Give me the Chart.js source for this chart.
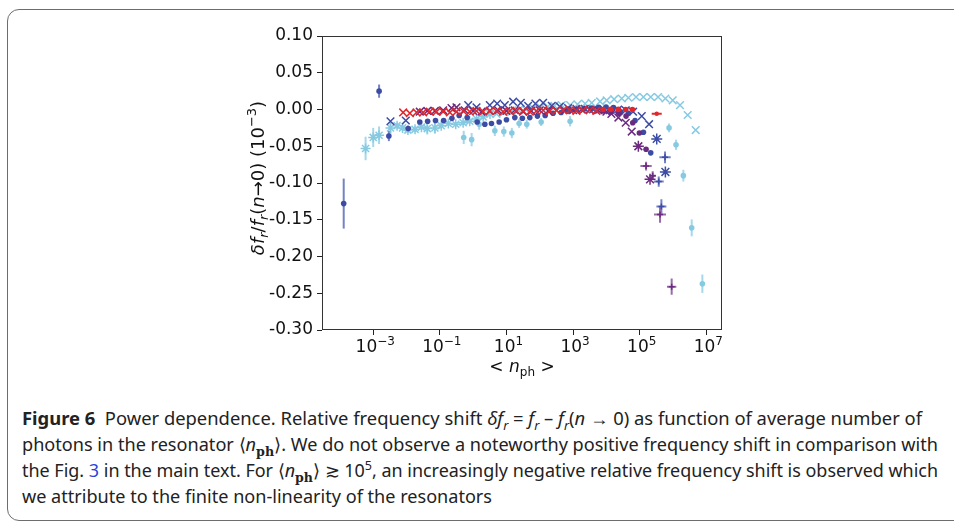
<!DOCTYPE html>
<html>
<head>
<meta charset="utf-8">
<script src="https://cdn.jsdelivr.net/npm/chart.js@4.4.0/dist/chart.umd.min.js"></script>
<style>
html, body { margin: 0; padding: 0; background: #fff; width: 954px; height: 522px; overflow: hidden; }
#frame { position: absolute; left: 7px; top: 9px; width: 975px; height: 510px; border: 1.5px solid #6d6d6d; border-radius: 12px; }
#chart { position: absolute; left: 0; top: 0; }
.cap { position: absolute; left: 22px; white-space: nowrap; font-family: 'Noto Sans', sans-serif; font-size: 18px; line-height: 26px; color: #222; transform-origin: 0 50%; }
.cap sub, .cap sup { font-size: 0.7em; line-height: 0; }
.cap .ph { font-family: 'DejaVu Serif', serif; font-weight: bold; }
.cap .link { color: #2b45d8; }
</style>
</head>
<body>
<div id="frame"></div>
<canvas id="chart" width="954" height="390"></canvas>
<div class="cap" id="cap1" style="top:405px"><b>Figure 6</b>&nbsp; Power dependence. Relative frequency shift <i>δf<sub>r</sub></i> = <i>f<sub>r</sub></i> – <i>f<sub>r</sub></i>(<i>n</i> → 0) as function of average number of</div>
<div class="cap" id="cap2" style="top:431px">photons in the resonator ⟨<i>n</i><sub class="ph">ph</sub>⟩. We do not observe a noteworthy positive frequency shift in comparison with</div>
<div class="cap" id="cap3" style="top:457px">the Fig. <span class="link">3</span> in the main text. For ⟨<i>n</i><sub class="ph">ph</sub>⟩ ≳ 10<sup>5</sup>, an increasingly negative relative frequency shift is observed which</div>
<div class="cap" id="cap4" style="top:483px">we attribute to the finite non-linearity of the resonators</div>
<script>
// axis ranges and ticks
const xMin = 2.9e-5, xMax = 2.95e7;
const yMin = -0.30, yMax = 0.10;
const xTickValues = [1e-3, 1e-1, 1e1, 1e3, 1e5, 1e7];
const xTickExponents = ['−3', '−1', '1', '3', '5', '7'];
const yTickValues = [-0.30, -0.25, -0.20, -0.15, -0.10, -0.05, 0.00, 0.05, 0.10];
const yTickLabels = ['-0.30', '-0.25', '-0.20', '-0.15', '-0.10', '-0.05', '0.00', '0.05', '0.10'];

// light blue resonator
const lbStarN = [5.9e-4, 1.0e-3, 1.5e-3, 3.3e-3, 5.2e-3, 7.6e-3, 1.1e-2, 1.8e-2, 2.8e-2, 4.2e-2, 7.1e-2, 0.11, 0.18, 0.30, 0.50, 0.79, 1.26, 2.0, 3.2];
const lbStarY = [-0.053, -0.038, -0.035, -0.025, -0.022, -0.025, -0.028, -0.027, -0.024, -0.026, -0.025, -0.022, -0.019, -0.020, -0.018, -0.016, -0.013, -0.010, -0.006];
const lbStarErr = [0.016, 0.013, 0.012, 0.008, 0.004, 0.004, 0.004, 0.004, 0.003, 0.008, 0.008, 0.004, 0.003, 0.003, 0.003, 0.003, 0.002, 0.002, 0.002];
const lbCrossN = [5.0, 8.3, 14, 23, 38, 63, 105, 174, 275, 457, 813, 1350, 2290, 3630, 6460, 1.02e4, 1.70e4, 2.88e4, 4.57e4, 7.76e4, 1.29e5, 2.14e5, 3.55e5, 5.89e5, 9.77e5, 1.62e6, 2.75e6, 4.79e6];
const lbCrossY = [-0.006, -0.004, -0.003, -0.001, 0.0, 0.002, 0.003, 0.004, 0.005, 0.006, 0.006, 0.007, 0.008, 0.009, 0.011, 0.0125, 0.014, 0.015, 0.016, 0.017, 0.017, 0.017, 0.017, 0.015, 0.0125, 0.006, -0.0075, -0.028];
const lbDotN = [0.52, 0.90, 1.51, 4.47, 8.32, 14.5, 24.0, 40.7, 110, 813, 7.59e5, 1.23e6, 2.04e6, 3.63e6, 7.59e6];
const lbDotY = [-0.038, -0.041, -0.020, -0.029, -0.030, -0.032, -0.019, -0.020, -0.017, -0.016, -0.025, -0.048, -0.090, -0.161, -0.237];
const lbDotErr = [0.009, 0.009, 0.0075, 0.007, 0.007, 0.007, 0.006, 0.006, 0.0055, 0.007, 0.006, 0.007, 0.008, 0.0115, 0.0125];

// dark blue resonator
const bDotN = [1.3e-4, 1.5e-3, 2.95e-3, 1.12e-2, 2.5e-2, 4.3e-2, 7.4e-2, 0.13, 0.23, 0.38, 0.66, 1.32, 2.24, 3.55, 6.03, 10, 17.8, 30, 50, 85, 145, 251, 437, 759, 1260, 2140, 3550, 5890, 9770, 1.62e4, 2.69e4, 4.57e4, 7.24e4, 1.29e5, 2.14e5];
const bDotY = [-0.128, 0.025, -0.036, -0.026, -0.017, -0.016, -0.015, -0.015, -0.012, -0.008, -0.011, -0.017, -0.020, -0.019, -0.017, -0.014, -0.011, -0.012, -0.011, -0.009, -0.008, -0.005, -0.004, -0.001, 0.000, 0.001, 0.002, 0.003, 0.0034, 0.0025, -0.003, -0.005, -0.015, -0.031, -0.059];
const bDotErr = [0.034, 0.009, 0.007, 0, 0, 0, 0, 0, 0, 0, 0, 0, 0, 0, 0, 0, 0, 0, 0, 0, 0, 0, 0, 0, 0, 0, 0, 0, 0, 0, 0, 0, 0, 0, 0];
const bCrossN = [3.3e-3, 9.5e-3, 0.71, 1.26, 3.16, 5.25, 8.9, 15.8, 26.9, 44.7, 74, 126, 229, 398, 708, 1260, 2240, 3980, 7080, 1.26e4, 2.24e4, 3.8e4, 6.31e4, 1.15e5, 1.91e5];
const bCrossY = [-0.016, -0.015, 0.006, 0.003, 0.006, 0.008, 0.006, 0.0106, 0.009, 0.005, 0.008, 0.009, 0.005, 0.004, 0.002, 0.001, 0.001, 0.0, 0.0, -0.001, 0.0, -0.001, -0.003, -0.009, -0.020];
const bStarN = [3.24e5, 5.89e5];
const bStarY = [-0.040, -0.085];
const bPlusN = [5.75e5, 3.72e5, 4.47e5];
const bPlusY = [-0.065, -0.098, -0.132];
const bPlusErr = [0.008, 0.007, 0.010];
const bPlusXErr = [0.17, 0.15, 0.15];

// purple resonator
const pCrossN = [0.025, 0.042, 0.071, 0.126, 0.224, 0.316, 0.56, 1.0, 1.78, 3.16, 5.62, 10, 17.8, 31.6, 56, 100, 178, 316, 562, 1000, 1780, 3160, 5620, 1.0e4, 1.41e4, 2.29e4, 3.8e4, 5.75e4];
const pCrossY = [-0.003, -0.002, -0.002, -0.001, 0.002, 0.003, -0.001, -0.002, -0.003, -0.002, -0.001, -0.002, -0.001, -0.003, -0.002, -0.001, -0.002, -0.001, -0.001, -0.001, 0.0, 0.0, -0.001, -0.003, -0.006, -0.011, -0.018, -0.030];
const pDotN = [7940, 1.38e4, 2.34e4, 3.89e4, 6.17e4, 9.77e4, 1.55e5];
const pDotY = [-0.002, -0.003, -0.005, -0.009, -0.018, -0.032, -0.054];
const pStarN = [9.1e4, 2.04e5];
const pStarY = [-0.050, -0.095];
const pPlusN = [1.55e5, 2.45e5, 4.07e5, 9.1e5];
const pPlusY = [-0.077, -0.090, -0.143, -0.241];
const pPlusErr = [0.006, 0.006, 0.011, 0.011];
const pPlusXErr = [0.17, 0.1, 0.18, 0.14];

// red resonator
const rCrossN = [7.9e-3, 1.26e-2, 2.0e-2, 3.16e-2, 5.0e-2, 7.9e-2, 0.126, 0.2, 0.316, 0.5, 0.79, 1.26, 2.0, 3.16, 5.0, 7.9, 12.6, 20, 31.6, 50, 79, 126, 200, 316, 500, 794, 1260, 2000, 3160, 5010];
const rCrossY = [-0.004, -0.005, -0.004, -0.004, -0.003, -0.003, -0.003, -0.004, -0.003, -0.002, -0.003, -0.002, -0.003, -0.002, -0.002, -0.003, -0.002, -0.002, -0.002, -0.003, -0.002, -0.001, -0.002, -0.001, -0.001, -0.001, -0.002, -0.001, -0.001, -0.002];
const rDotN = [7940, 1.35e4, 2.29e4, 3.8e4, 6.03e4];
const rDotY = [0.0, 0.0003, 0.0003, 0.0, 0.0];
const rPlusN = [3.24e5];
const rPlusY = [-0.0057];
const rPlusErr = [0.001];
const rPlusXErr = [0.15];

const lightBlue = '#86cae2', lightBlueErr = '#a4d8ea';
const blue = '#3c4ca4', blueErr = '#7482c4';
const purple = '#6b2a80', purpleErr = '#9a6aac';
const red = '#e0282c';

function pts(xs, ys) {
  return xs.map((v, i) => ({ x: v, y: ys[i] }));
}

function series(xs, ys, color, style, radius, extra) {
  return Object.assign({
    data: pts(xs, ys),
    showLine: false,
    pointStyle: style,
    pointRadius: radius,
    pointBorderWidth: style === 'circle' ? 0 : 1.5,
    borderColor: color,
    backgroundColor: color
  }, extra || {});
}

// listed bottom to top
const datasets = [
  series(lbStarN, lbStarY, lightBlue, 'star', 5, { yErr: lbStarErr, errColor: lightBlueErr }),
  series(lbDotN, lbDotY, lightBlue, 'circle', 2.8, { yErr: lbDotErr, errColor: lightBlueErr }),
  series(lbCrossN, lbCrossY, lightBlue, 'crossRot', 5.4),
  series(bDotN, bDotY, blue, 'circle', 2.8, { yErr: bDotErr, errColor: blueErr }),
  series(bCrossN, bCrossY, blue, 'crossRot', 5.4),
  series(pCrossN, pCrossY, purple, 'crossRot', 5.4),
  series(pDotN, pDotY, purple, 'circle', 2.8),
  series(rCrossN, rCrossY, red, 'crossRot', 5.4),
  series(rDotN, rDotY, red, 'circle', 2.8),
  series(bStarN, bStarY, blue, 'star', 5.5),
  series(bPlusN, bPlusY, blue, 'cross', 3, { yErr: bPlusErr, xErr: bPlusXErr, errColor: blueErr }),
  series(pStarN, pStarY, purple, 'star', 5.5),
  series(pPlusN, pPlusY, purple, 'cross', 3, { yErr: pPlusErr, xErr: pPlusXErr, errColor: purpleErr }),
  series(rPlusN, rPlusY, red, 'circle', 2.2, { yErr: rPlusErr, xErr: rPlusXErr, errColor: red })
];
datasets.forEach((d, i) => { d.order = -i; });

const errorBars = {
  id: 'errorBars',
  beforeDatasetsDraw(chart) {
    const ctx = chart.ctx, xs = chart.scales.x, ys = chart.scales.y;
    chart.data.datasets.forEach(ds => {
      if (!ds.yErr && !ds.xErr) return;
      ctx.save();
      ctx.strokeStyle = ds.errColor;
      ctx.lineWidth = 2;
      ds.data.forEach((p, i) => {
        const px = xs.getPixelForValue(p.x), py = ys.getPixelForValue(p.y);
        const ye = ds.yErr ? ds.yErr[i] : 0;
        const xe = ds.xErr ? ds.xErr[i] : 0;
        ctx.beginPath();
        if (ye) {
          ctx.moveTo(px, ys.getPixelForValue(p.y - ye));
          ctx.lineTo(px, ys.getPixelForValue(p.y + ye));
        }
        if (xe) {
          ctx.moveTo(xs.getPixelForValue(p.x / Math.pow(10, xe)), py);
          ctx.lineTo(xs.getPixelForValue(p.x * Math.pow(10, xe)), py);
        }
        ctx.stroke();
      });
      ctx.restore();
    });
  }
};

function segFont(s, size) {
  const sz = (s.sub || s.sup) ? Math.round(size * 0.7) : size;
  return (s.it ? 'italic ' : '') + sz + 'px "DejaVu Sans"';
}
function drawRich(ctx, segs, cx, baseY, size) {
  const widths = segs.map(s => { ctx.font = segFont(s, size); return ctx.measureText(s.t).width; });
  let x = cx - widths.reduce((a, b) => a + b, 0) / 2;
  segs.forEach((s, i) => {
    ctx.font = segFont(s, size);
    const dy = s.sub ? size * 0.22 : (s.sup ? -size * 0.42 : 0);
    ctx.fillText(s.t, x, baseY + dy);
    x += widths[i];
  });
}

const yTitle = [
  { t: 'δ', it: 1 }, { t: 'f', it: 1 }, { t: 'r', it: 1, sub: 1 }, { t: '/' },
  { t: 'f', it: 1 }, { t: 'r', it: 1, sub: 1 }, { t: '(' }, { t: 'n', it: 1 },
  { t: '→' }, { t: '0' }, { t: ')' }, { t: ' (10' }, { t: '−3', sup: 1 }, { t: ')' }
];
const xTitle = [{ t: '< ' }, { t: 'n', it: 1 }, { t: 'ph', sub: 1 }, { t: ' >' }];

const frameAndTitles = {
  id: 'frameAndTitles',
  afterDraw(chart) {
    const ctx = chart.ctx, a = chart.chartArea, xs = chart.scales.x;
    ctx.save();
    ctx.strokeStyle = '#333';
    ctx.lineWidth = 1;
    ctx.strokeRect(a.left + 0.5, a.top + 0.5, a.right - a.left - 1, a.bottom - a.top - 1);
    ctx.fillStyle = '#111';
    ctx.textBaseline = 'alphabetic';
    // x tick labels as powers of ten
    xTickValues.forEach((v, i) => {
      drawRich(ctx, [{ t: '10' }, { t: xTickExponents[i], sup: 1 }], xs.getPixelForValue(v) + 2, a.bottom + 22, 17);
    });
    drawRich(ctx, xTitle, 522, 372, 17);
    ctx.translate(258, 178);
    ctx.rotate(-Math.PI / 2);
    drawRich(ctx, yTitle, 0, 6, 18);
    ctx.restore();
  }
};

Chart.defaults.font.family = '"DejaVu Sans"';
Chart.defaults.color = '#111';

new Chart(document.getElementById('chart'), {
  type: 'scatter',
  data: { datasets: datasets },
  options: {
    animation: false,
    responsive: false,
    events: [],
    layout: { padding: { left: 232, right: 232, top: 36, bottom: 0 } },
    plugins: { legend: { display: false }, tooltip: { enabled: false } },
    scales: {
      x: {
        type: 'logarithmic',
        min: xMin,
        max: xMax,
        afterBuildTicks: s => { s.ticks = xTickValues.map(v => ({ value: v })); },
        afterFit: s => { s.height = 60; },
        ticks: { display: false },
        grid: { drawOnChartArea: false, drawTicks: true, tickLength: 5, tickColor: '#222' },
        border: { display: false }
      },
      y: {
        min: yMin,
        max: yMax,
        afterBuildTicks: s => { s.ticks = yTickValues.map(v => ({ value: v })); },
        afterFit: s => { s.width = 90; },
        ticks: {
          padding: 4,
          font: { size: 17 },
          callback: (v, i) => yTickLabels[i]
        },
        grid: { drawOnChartArea: false, drawTicks: true, tickLength: 5, tickColor: '#222' },
        border: { display: false }
      }
    }
  },
  plugins: [errorBars, frameAndTitles]
});

// squeeze caption lines to the widths of the original typesetting
const capTargets = { cap1: 900, cap2: 916, cap3: 916, cap4: 470 };
Object.keys(capTargets).forEach(id => {
  const el = document.getElementById(id);
  const w = el.getBoundingClientRect().width;
  el.style.transform = 'scaleX(' + (capTargets[id] / w) + ')';
});
</script>
</body>
</html>
